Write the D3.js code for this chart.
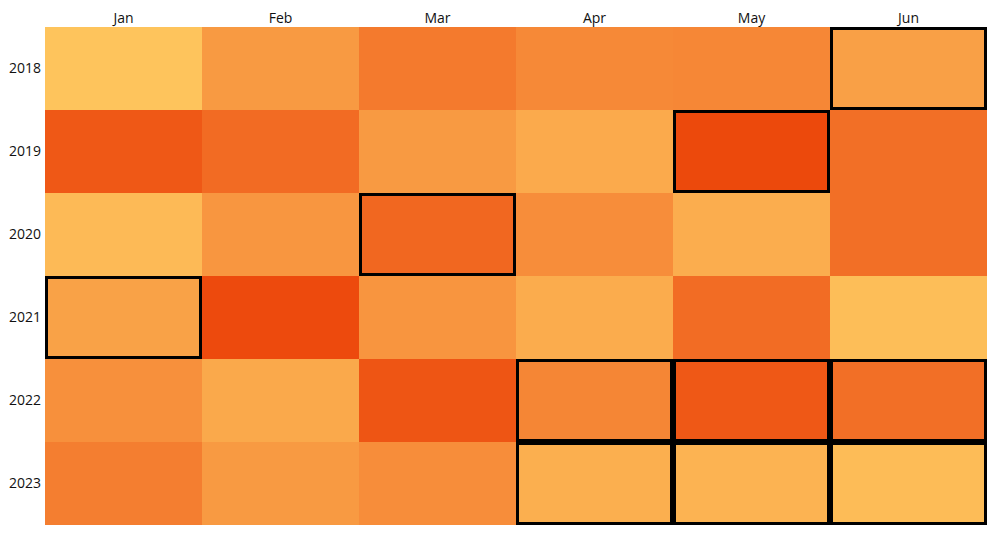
<!DOCTYPE html>
<html><head><meta charset="utf-8">
<script src="https://cdn.jsdelivr.net/npm/d3@7"></script>
<style>
html,body{margin:0;padding:0;background:#fff;}
text{font-family:"Segoe UI","Open Sans","Noto Sans",sans-serif;}
</style></head>
<body><svg id="chart" width="1000" height="541"></svg>
<script>
const months = ["Jan","Feb","Mar","Apr","May","Jun"];
const years = ["2018","2019","2020","2021","2022","2023"];
// intensity values (0 = lightest, 100 = darkest), row per year
const values2018 = [0, 40, 65, 55, 56, 35];
const values2019 = [88, 75, 40, 25, 98, 72];
const values2020 = [10, 44, 78, 52, 22, 72];
const values2021 = [33, 97, 45, 23, 74, 6];
const values2022 = [50, 26, 90, 57, 88, 72];
const values2023 = [62, 40, 52, 20, 16, 8];
const highlighted = [["2018","Jun"],["2019","May"],["2020","Mar"],["2021","Jan"],
  ["2022","Apr"],["2022","May"],["2022","Jun"],["2023","Apr"],["2023","May"],["2023","Jun"]];

const rows = [values2018, values2019, values2020, values2021, values2022, values2023];
const data = [];
years.forEach((y, i) => months.forEach((m, j) => data.push({year: y, month: m, value: rows[i][j]})));
const hl = new Set(highlighted.map(d => d[0] + "|" + d[1]));

const margin = {left: 45, top: 27, right: 13, bottom: 16};
const W = 1000, H = 541;
const svg = d3.select("#chart");
const x = d3.scaleBand().domain(months).range([margin.left, W - margin.right]).padding(0);
const y = d3.scaleBand().domain(years).range([margin.top, H - margin.bottom]).padding(0);
const color = d3.scaleLinear().domain([0, 50, 100]).range(["#fec45c", "#f7903c", "#ec460a"]);

svg.append("g").selectAll("rect").data(data).join("rect")
  .attr("x", d => x(d.month)).attr("y", d => y(d.year))
  .attr("width", x.bandwidth()).attr("height", y.bandwidth())
  .attr("fill", d => color(d.value)).attr("shape-rendering", "crispEdges");

svg.append("g").selectAll("rect").data(data.filter(d => hl.has(d.year + "|" + d.month))).join("rect")
  .attr("x", d => x(d.month) + 1.5).attr("y", d => y(d.year) + 1.5)
  .attr("width", x.bandwidth() - 3).attr("height", y.bandwidth() - 3)
  .attr("fill", "none").attr("stroke", "#000").attr("stroke-width", 3);

const xAxis = svg.append("g").attr("transform", `translate(0,${margin.top})`)
  .call(d3.axisTop(x).tickSize(0).tickPadding(4));
xAxis.select(".domain").remove();
xAxis.selectAll("text").attr("font-size", 14).attr("fill", "#111")
  .style("font-family", '"Segoe UI","Open Sans","Noto Sans",sans-serif');

const yAxis = svg.append("g").attr("transform", `translate(${margin.left},0)`)
  .call(d3.axisLeft(y).tickSize(0).tickPadding(4));
yAxis.select(".domain").remove();
yAxis.selectAll("text").attr("font-size", 14).attr("fill", "#111")
  .style("font-family", '"Segoe UI","Open Sans","Noto Sans",sans-serif');
</script></body></html>
